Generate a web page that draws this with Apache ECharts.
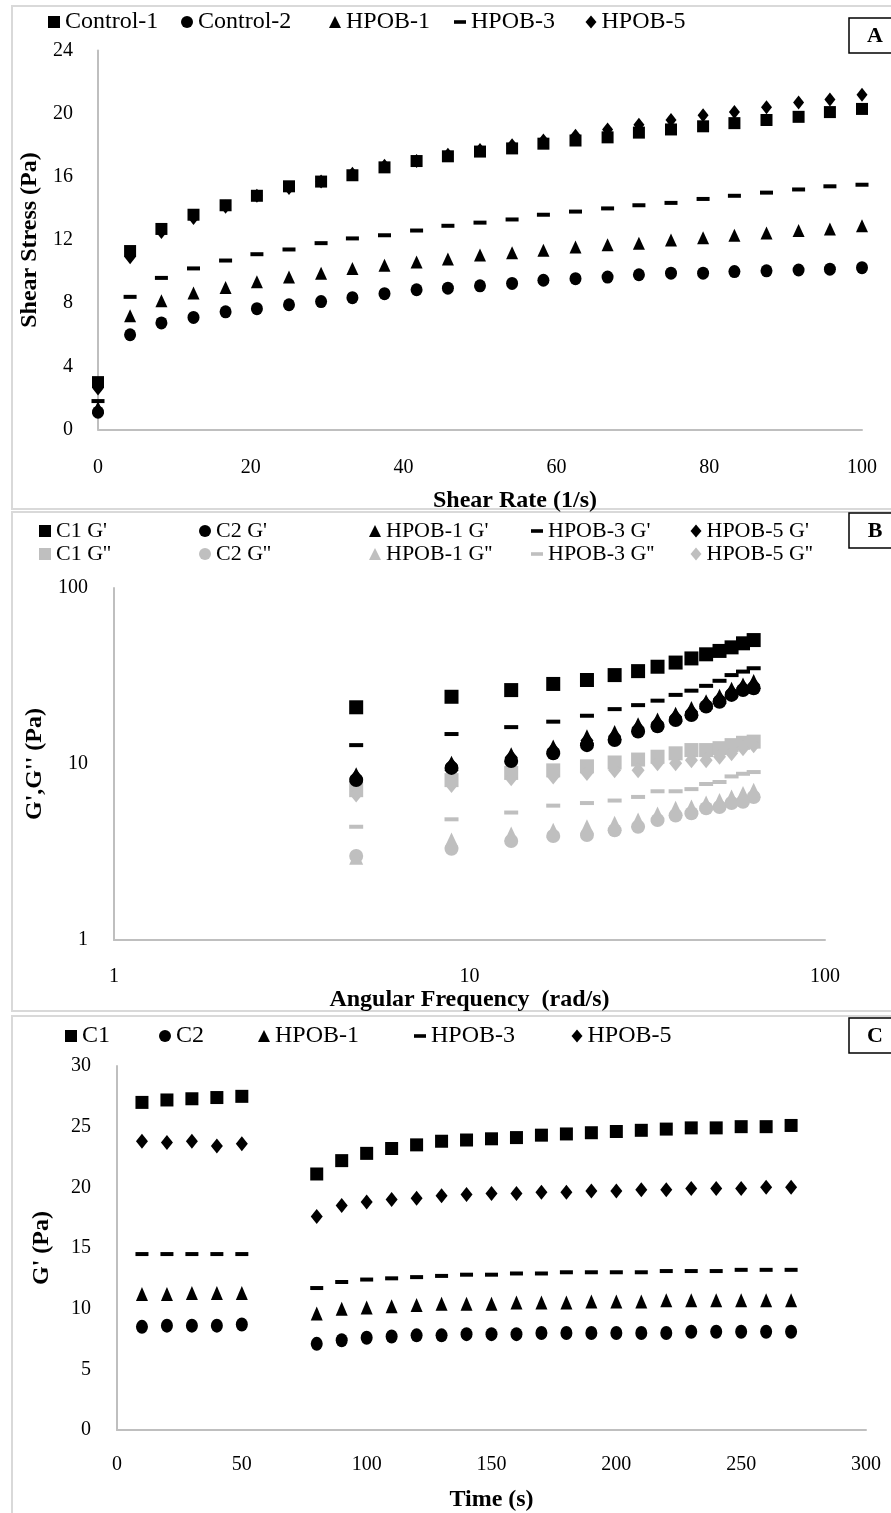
<!DOCTYPE html>
<html>
<head>
<meta charset="utf-8">
<title>Rheology panels</title>
<script src="https://cdn.jsdelivr.net/npm/echarts@6/dist/echarts.min.js"></script>
<style>
  html, body { margin: 0; padding: 0; background: #fff; }
  #chart { width: 891px; height: 1513px; }
</style>
</head>
<body>
<div id="chart"></div>
<script>
// ---- Panel A: shear stress vs shear rate ----
const shearRate = [0, 4.2, 8.3, 12.5, 16.7, 20.8, 25, 29.2, 33.3, 37.5, 41.7, 45.8, 50,
  54.2, 58.3, 62.5, 66.7, 70.8, 75, 79.2, 83.3, 87.5, 91.7, 95.8, 100];
const stressControl1 = [3.0, 11.3, 12.7, 13.6, 14.2, 14.8, 15.4, 15.7, 16.1, 16.6, 17.0, 17.3, 17.6,
  17.8, 18.1, 18.3, 18.5, 18.8, 19.0, 19.2, 19.4, 19.6, 19.8, 20.1, 20.3];
const stressControl2 = [1.1, 6.0, 6.75, 7.1, 7.45, 7.65, 7.9, 8.1, 8.35, 8.6, 8.85, 8.95, 9.1,
  9.25, 9.45, 9.55, 9.65, 9.8, 9.9, 9.9, 10.0, 10.05, 10.1, 10.15, 10.25];
const stressHpob1 = [1.4, 7.2, 8.15, 8.65, 9.0, 9.35, 9.65, 9.9, 10.2, 10.4, 10.6, 10.8, 11.05,
  11.2, 11.35, 11.55, 11.7, 11.8, 12.0, 12.15, 12.3, 12.45, 12.6, 12.7, 12.9];
const stressHpob3 = [1.8, 8.4, 9.6, 10.2, 10.7, 11.1, 11.4, 11.8, 12.1, 12.3, 12.6, 12.9, 13.1,
  13.3, 13.6, 13.8, 14.0, 14.2, 14.35, 14.6, 14.8, 15.0, 15.2, 15.4, 15.5];
const stressHpob5 = [2.6, 10.9, 12.5, 13.4, 14.1, 14.8, 15.3, 15.7, 16.2, 16.7, 17.0, 17.4, 17.7,
  18.0, 18.3, 18.6, 19.0, 19.3, 19.6, 19.9, 20.1, 20.4, 20.7, 20.9, 21.2];

// ---- Panel B: frequency sweep (log-log) ----
const angFreq = [4.8, 8.9, 13.1, 17.2, 21.4, 25.6, 29.8, 33.8, 38.0, 42.1, 46.3, 50.5, 54.6, 58.8, 63.0];
const c1Gp  = [21.0, 24.1, 26.3, 28.5, 30.0, 32.0, 33.7, 35.7, 37.7, 39.8, 42.0, 43.9, 46.0, 48.5, 50.6];
const c2Gp  = [8.1, 9.5, 10.4, 11.5, 12.8, 13.7, 15.3, 16.4, 17.8, 19.0, 21.2, 22.6, 24.7, 26.3, 26.9];
const h1Gp  = [8.7, 10.1, 11.3, 12.5, 14.3, 15.1, 16.7, 17.8, 19.2, 20.7, 22.6, 24.3, 26.6, 28.1, 29.4];
const h3Gp  = [12.8, 14.8, 16.2, 17.4, 18.8, 20.5, 21.6, 22.9, 24.7, 26.1, 27.8, 29.7, 32.0, 33.5, 35.0];
const h5Gp  = [8.4, 9.8, 10.9, 12.0, 13.6, 14.4, 16.0, 17.1, 18.5, 19.8, 21.9, 23.4, 25.6, 27.2, 28.1];
const c1Gpp = [7.1, 8.1, 8.9, 9.2, 9.7, 10.2, 10.6, 11.0, 11.5, 12.0, 12.0, 12.3, 12.8, 13.2, 13.4];
const c2Gpp = [3.0, 3.3, 3.65, 3.9, 3.95, 4.2, 4.4, 4.8, 5.1, 5.25, 5.6, 5.7, 6.0, 6.1, 6.5];
const h1Gpp = [2.95, 3.7, 4.0, 4.2, 4.4, 4.6, 4.8, 5.2, 5.6, 5.7, 6.0, 6.2, 6.5, 6.8, 7.1];
const h3Gpp = [4.4, 4.85, 5.3, 5.8, 6.0, 6.2, 6.5, 7.0, 7.0, 7.2, 7.7, 7.9, 8.5, 8.8, 9.0];
const h5Gpp = [6.7, 7.6, 8.3, 8.5, 8.9, 9.2, 9.2, 10.1, 10.1, 10.5, 10.5, 11.0, 11.5, 12.3, 12.8];

// ---- Panel C: G' vs time ----
const timeS = [10, 20, 30, 40, 50, 80, 90, 100, 110, 120, 130, 140, 150, 160, 170, 180,
  190, 200, 210, 220, 230, 240, 250, 260, 270];
const timeC1 = [27.0, 27.2, 27.3, 27.4, 27.5, 21.1, 22.2, 22.8, 23.2, 23.5, 23.8, 23.9, 24.0,
  24.1, 24.3, 24.4, 24.5, 24.6, 24.7, 24.8, 24.9, 24.9, 25.0, 25.0, 25.1];
const timeC2 = [8.5, 8.6, 8.6, 8.6, 8.7, 7.1, 7.4, 7.6, 7.7, 7.8, 7.8, 7.9, 7.9,
  7.9, 8.0, 8.0, 8.0, 8.0, 8.0, 8.0, 8.1, 8.1, 8.1, 8.1, 8.1];
const timeH1 = [11.2, 11.2, 11.3, 11.3, 11.3, 9.6, 10.0, 10.1, 10.2, 10.3, 10.4, 10.4, 10.4,
  10.5, 10.5, 10.5, 10.6, 10.6, 10.6, 10.7, 10.7, 10.7, 10.7, 10.7, 10.7];
const timeH3 = [14.5, 14.5, 14.5, 14.5, 14.5, 11.7, 12.2, 12.4, 12.5, 12.6, 12.7, 12.8, 12.8,
  12.9, 12.9, 13.0, 13.0, 13.0, 13.0, 13.1, 13.1, 13.1, 13.2, 13.2, 13.2];
const timeH5 = [23.8, 23.7, 23.8, 23.4, 23.6, 17.6, 18.5, 18.8, 19.0, 19.1, 19.3, 19.4, 19.5,
  19.5, 19.6, 19.6, 19.7, 19.7, 19.8, 19.8, 19.9, 19.9, 19.9, 20.0, 20.0];

const BLACK = '#000';
const GREY = '#bfbfbf';
const FONT = 'Liberation Serif';
const DASH = 'path://M0 0H10V3H0Z';

function pairs(xs, ys) {
  return xs.map((x, i) => [x, ys[i]]);
}

function scatter(name, grid, xs, ys, symbol, size, color) {
  return {
    name: name,
    type: 'scatter',
    xAxisIndex: grid,
    yAxisIndex: grid,
    symbol: symbol,
    symbolSize: size,
    itemStyle: { color: color, opacity: 1 },
    data: pairs(xs, ys)
  };
}

// one legend component per entry, so entries sit where the figure has them
function legendItem(name, icon, cx, cy, w, h, fs) {
  return {
    data: [{ name: name, icon: icon }],
    left: cx - w / 2,
    top: cy - fs / 2,
    padding: 0,
    itemWidth: w,
    itemHeight: h,
    selectedMode: false,
    textStyle: { fontFamily: FONT, fontSize: fs, color: '#000', lineHeight: fs }
  };
}

const nameStyle = { fontFamily: FONT, fontSize: 24, fontWeight: 'bold', color: '#000' };

function valueAxis(grid, min, max, interval, name, nameGap, labelMargin, extra) {
  return Object.assign({
    type: 'value',
    gridIndex: grid,
    min: min,
    max: max,
    interval: interval,
    name: name,
    nameLocation: 'middle',
    nameGap: nameGap,
    nameTextStyle: nameStyle,
    axisLine: { show: true, onZero: false, lineStyle: { color: GREY, width: 2 } },
    axisTick: { show: false },
    splitLine: { show: false },
    axisLabel: { fontFamily: FONT, fontSize: 20, color: '#000', margin: labelMargin }
  }, extra || {});
}

function logAxis(grid, name, nameGap, labelMargin) {
  return {
    type: 'log',
    logBase: 10,
    gridIndex: grid,
    min: 1,
    max: 100,
    name: name,
    nameLocation: 'middle',
    nameGap: nameGap,
    nameTextStyle: nameStyle,
    axisLine: { show: true, onZero: false, lineStyle: { color: GREY, width: 2 } },
    axisTick: { show: false },
    splitLine: { show: false },
    minorTick: { show: false },
    axisLabel: { fontFamily: FONT, fontSize: 20, color: '#000', margin: labelMargin }
  };
}

function panelBox(y, h) {
  return {
    type: 'rect',
    shape: { x: 12, y: y, width: 900, height: h },
    style: { fill: 'none', stroke: '#d9d9d9', lineWidth: 2 },
    silent: true
  };
}

function letterBox(letter, y) {
  return {
    type: 'group',
    children: [
      {
        type: 'rect',
        shape: { x: 849, y: y, width: 60, height: 35 },
        style: { fill: '#fff', stroke: '#000', lineWidth: 1.5 }
      },
      {
        type: 'text',
        x: 875, y: y + 18,
        style: {
          text: letter, fontFamily: FONT, fontSize: 22, fontWeight: 'bold',
          fill: '#000', align: 'center', verticalAlign: 'middle'
        }
      }
    ],
    silent: true
  };
}

const option = {
  animation: false,
  backgroundColor: '#fff',
  grid: [
    { left: 98, top: 50.5, width: 764, height: 379 },
    { left: 114, top: 588, width: 711, height: 352 },
    { left: 117, top: 1066, width: 749, height: 366 }
  ],
  xAxis: [
    valueAxis(0, 0, 100, 20, 'Shear Rate (1/s)', 59, 28,
      { nameTextStyle: Object.assign({}, nameStyle, { padding: [0, 0, 0, 70] }) }),
    logAxis(1, 'Angular Frequency  (rad/s)', 45, 27),
    valueAxis(2, 0, 300, 50, 'Time (s)', 58, 25)
  ],
  yAxis: [
    valueAxis(0, 0, 24, 4, 'Shear Stress (Pa)', 56, 25),
    logAxis(1, "G',G'' (Pa)", 56, 26),
    valueAxis(2, 0, 30, 5, "G' (Pa)", 63, 26)
  ],
  legend: [
    legendItem('Control-1', 'rect', 54, 22, 12, 12, 24),
    legendItem('Control-2', 'circle', 187, 22, 12, 13, 24),
    legendItem('HPOB-1', 'triangle', 335, 22, 12, 12, 24),
    legendItem('HPOB-3', DASH, 460, 22, 12, 4, 24),
    legendItem('HPOB-5', 'diamond', 591, 22, 11, 13, 24),

    legendItem("C1 G'", 'rect', 45, 531, 12, 12, 22),
    legendItem("C2 G'", 'circle', 205, 531, 12, 13, 22),
    legendItem("HPOB-1 G'", 'triangle', 375, 531, 12, 12, 22),
    legendItem("HPOB-3 G'", DASH, 537, 531, 12, 4, 22),
    legendItem("HPOB-5 G'", 'diamond', 696, 531, 11, 13, 22),
    legendItem("C1 G''", 'rect', 45, 554, 12, 12, 22),
    legendItem("C2 G''", 'circle', 205, 554, 12, 13, 22),
    legendItem("HPOB-1 G''", 'triangle', 375, 554, 12, 12, 22),
    legendItem("HPOB-3 G''", DASH, 537, 554, 12, 4, 22),
    legendItem("HPOB-5 G''", 'diamond', 696, 554, 11, 13, 22),

    legendItem('C1', 'rect', 71, 1036, 12, 12, 24),
    legendItem('C2', 'circle', 165, 1036, 12, 13, 24),
    legendItem('HPOB-1 ', 'triangle', 264, 1036, 12, 12, 24),
    legendItem('HPOB-3 ', DASH, 420, 1036, 12, 4, 24),
    legendItem('HPOB-5 ', 'diamond', 577, 1036, 11, 13, 24)
  ],
  graphic: [
    panelBox(6, 503),
    panelBox(512, 499),
    panelBox(1016, 510),
    letterBox('A', 18),
    letterBox('B', 513),
    letterBox('C', 1018)
  ],
  series: [
    // A
    scatter('Control-1', 0, shearRate, stressControl1, 'rect', 12, BLACK),
    scatter('Control-2', 0, shearRate, stressControl2, 'circle', [12, 13], BLACK),
    scatter('HPOB-1', 0, shearRate, stressHpob1, 'triangle', [12, 13], BLACK),
    scatter('HPOB-3', 0, shearRate, stressHpob3, DASH, [13, 4], BLACK),
    scatter('HPOB-5', 0, shearRate, stressHpob5, 'diamond', [11, 14], BLACK),
    // B, loss moduli (grey) first so storage moduli sit on top
    scatter("C1 G''", 1, angFreq, c1Gpp, 'rect', 14, GREY),
    scatter("C2 G''", 1, angFreq, c2Gpp, 'circle', 14, GREY),
    scatter("HPOB-1 G''", 1, angFreq, h1Gpp, 'triangle', [14, 15], GREY),
    scatter("HPOB-3 G''", 1, angFreq, h3Gpp, DASH, [14, 4], GREY),
    scatter("HPOB-5 G''", 1, angFreq, h5Gpp, 'diamond', [13, 16], GREY),
    scatter("C1 G'", 1, angFreq, c1Gp, 'rect', 14, BLACK),
    scatter("C2 G'", 1, angFreq, c2Gp, 'circle', 14, BLACK),
    scatter("HPOB-1 G'", 1, angFreq, h1Gp, 'triangle', [14, 15], BLACK),
    scatter("HPOB-3 G'", 1, angFreq, h3Gp, DASH, [14, 4], BLACK),
    scatter("HPOB-5 G'", 1, angFreq, h5Gp, 'diamond', [13, 16], BLACK),
    // C
    scatter('C1', 2, timeS, timeC1, 'rect', 13, BLACK),
    scatter('C2', 2, timeS, timeC2, 'circle', [12, 14], BLACK),
    scatter('HPOB-1 ', 2, timeS, timeH1, 'triangle', [12, 14], BLACK),
    scatter('HPOB-3 ', 2, timeS, timeH3, DASH, [13, 4], BLACK),
    scatter('HPOB-5 ', 2, timeS, timeH5, 'diamond', [12, 15], BLACK)
  ]
};

const chart = echarts.init(document.getElementById('chart'));
chart.setOption(option);
</script>
</body>
</html>
